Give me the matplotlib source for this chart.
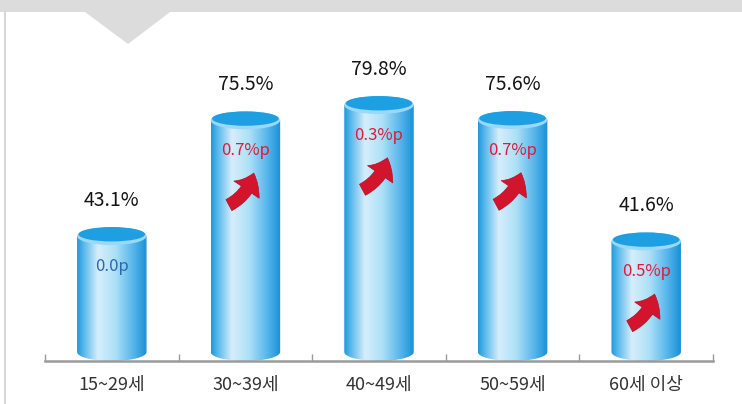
import numpy as np
import matplotlib
matplotlib.use("Agg")
import matplotlib.pyplot as plt
from matplotlib.patches import Ellipse, Rectangle, Polygon, FancyArrowPatch
from matplotlib.path import Path
from matplotlib.colors import LinearSegmentedColormap

plt.rcParams['font.family'] = ['Noto Sans CJK KR', 'DejaVu Sans']

# ---- data ----
categories = ['15~29세', '30~39세', '40~49세', '50~59세', '60세 이상']
values = [43.1, 75.5, 79.8, 75.6, 41.6]
change_labels = ['0.0p', '0.7%p', '0.3%p', '0.7%p', '0.5%p']
change_up = [False, True, True, True, True]

W, H = 742, 404
fig = plt.figure(figsize=(W / 100, H / 100), dpi=100)
fig.patch.set_facecolor('white')

# ---- decoration layer (pixel coords) ----
deco = fig.add_axes([0, 0, 1, 1], zorder=0)
deco.set_xlim(0, W)
deco.set_ylim(H, 0)
deco.axis('off')
deco.add_patch(Rectangle((0, 0), W, 12, facecolor='#dcdcdc', edgecolor='none'))
deco.add_patch(Polygon([(85, 12), (170, 12), (128, 44)], closed=True,
                       facecolor='#dcdcdc', edgecolor='none'))
deco.plot([5, 5], [12, H], color='#d8d8d8', lw=1.5)

# ---- main axes ----
left_px, right_px, base_px = 45, 713, 361
ax = fig.add_axes([left_px / W, (H - base_px) / H, (right_px - left_px) / W, base_px / H], zorder=1)
px_per_unit = 3.57
ymin = 8.1
ymax = ymin + base_px / px_per_unit
ax.set_xlim(-0.5, len(categories) - 0.5)
ax.set_ylim(ymin, ymax)
ax.patch.set_alpha(0)
for s in ['top', 'left', 'right']:
    ax.spines[s].set_visible(False)
ax.spines['bottom'].set_color('#9a9a9a')
ax.spines['bottom'].set_linewidth(1.8)
ax.spines['bottom'].set_zorder(6)
ax.set_yticks([])
ax.set_xticks(range(len(categories)))
ax.set_xticklabels(categories, fontsize=13, color='#333333')
ax.tick_params(axis='x', which='major', length=0, pad=11)
ax.set_xticks(np.arange(-0.5, len(categories)), minor=True)
ax.tick_params(axis='x', which='minor', direction='in', length=5, color='#9a9a9a', width=1)

xunit_px = (right_px - left_px) / len(categories)
bw = 0.52
eh = 18 / px_per_unit  # ellipse height in data units

cmap = LinearSegmentedColormap.from_list('cyl', [
    (0.0, '#1f98dc'), (0.10, '#5cb9ec'), (0.30, '#d6eefb'),
    (0.55, '#ace0f7'), (0.82, '#52b3ea'), (1.0, '#1b8fd6')])
grad = np.linspace(0, 1, 256).reshape(1, -1)

for i, v in enumerate(values):
    x0, x1 = i - bw / 2, i + bw / 2
    yb = ymin + eh / 2
    n = 40
    t = np.linspace(np.pi, 2 * np.pi, n)
    bx = i + (bw / 2) * np.cos(t)
    by = yb + (eh / 2) * np.sin(t)
    verts = [(x0, v)] + list(zip(bx, by)) + [(x1, v), (x0, v)]
    path = Path(verts, closed=True)
    im = ax.imshow(grad, cmap=cmap, aspect='auto', extent=(x0, x1, ymin, v),
                   zorder=2, interpolation='bilinear')
    patch = matplotlib.patches.PathPatch(path, facecolor='none', edgecolor='none',
                                         transform=ax.transData)
    ax.add_patch(patch)
    im.set_clip_path(patch)
    # top ellipse
    ax.add_patch(Ellipse((i, v), bw, eh, facecolor='#9ad8f7', edgecolor='none', zorder=3))
    ax.add_patch(Ellipse((i, v + eh * 0.1), bw * 0.96, eh * 0.8,
                         facecolor='#1d9fe2', edgecolor='none', zorder=4))
    # value label
    ax.text(i, v + 36 / px_per_unit, f'{v:.1f}%', ha='center', va='center',
            fontsize=14, fontweight='medium', color='#151515', zorder=5)
    # change label
    col = '#e3183c' if change_up[i] else '#2a68b0'
    ax.text(i, v - 30 / px_per_unit, change_labels[i], ha='center', va='center',
            fontsize=12, color=col, zorder=5)
    if change_up[i]:
        tail = (i - 19 / xunit_px, v - 86 / px_per_unit)
        head = (i + 9 / xunit_px, v - 50 / px_per_unit)
        arr = FancyArrowPatch(tail, head, connectionstyle='arc3,rad=0.25',
                              arrowstyle='simple,head_length=0.65,head_width=1.1,tail_width=0.45',
                              mutation_scale=20, facecolor='#d3142d', edgecolor='#b50f25',
                              lw=0.5, zorder=5)
        ax.add_patch(arr)

fig.savefig('out.png', dpi=100, facecolor='white')
